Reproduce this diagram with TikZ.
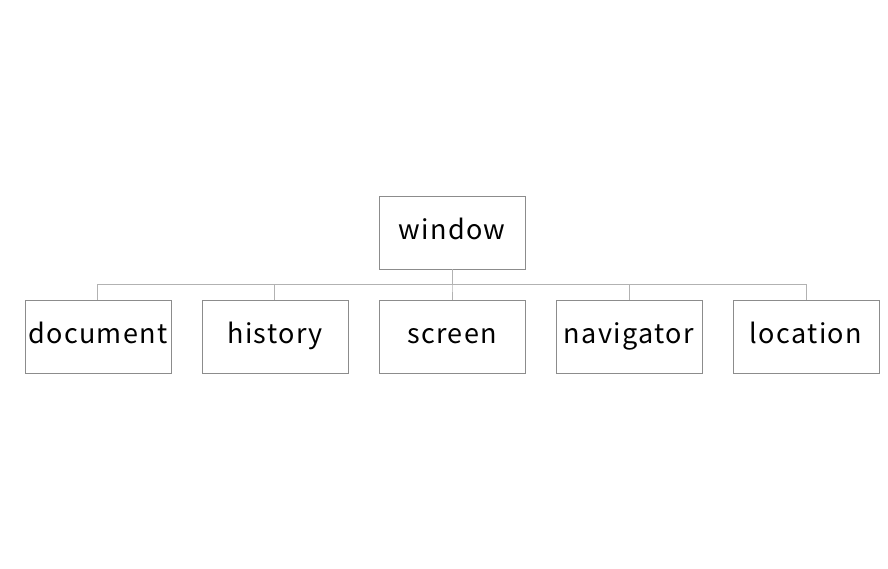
\documentclass[tikz,border=0pt]{standalone}
\usepackage{fontspec}
\setmainfont{Noto Sans CJK JP}[LetterSpace=5]
\usetikzlibrary{trees}
\begin{document}
\begin{tikzpicture}[edge from parent/.style={draw,gray!60,line width=1pt},
edge from parent fork down,
level distance=104pt,
level 1/.style={sibling distance=177pt}]
\tikzstyle{every node}=[rectangle,draw=gray!90,line width=0.8pt,minimum width=146pt,minimum height=73pt,inner sep=0pt,text height=20pt,text depth=6pt,font=\fontsize{27}{34}\selectfont]
\useasboundingbox (-452pt,-336.5pt) rectangle (436pt,232.5pt);
\node (Window) {window}
child { node (Document) {document} }
child { node (History) {history} }
child { node (Screen) {screen} }
child { node (Navigator) {navigator} }
child { node (Location) {location} };
\end{tikzpicture}
\end{document}
